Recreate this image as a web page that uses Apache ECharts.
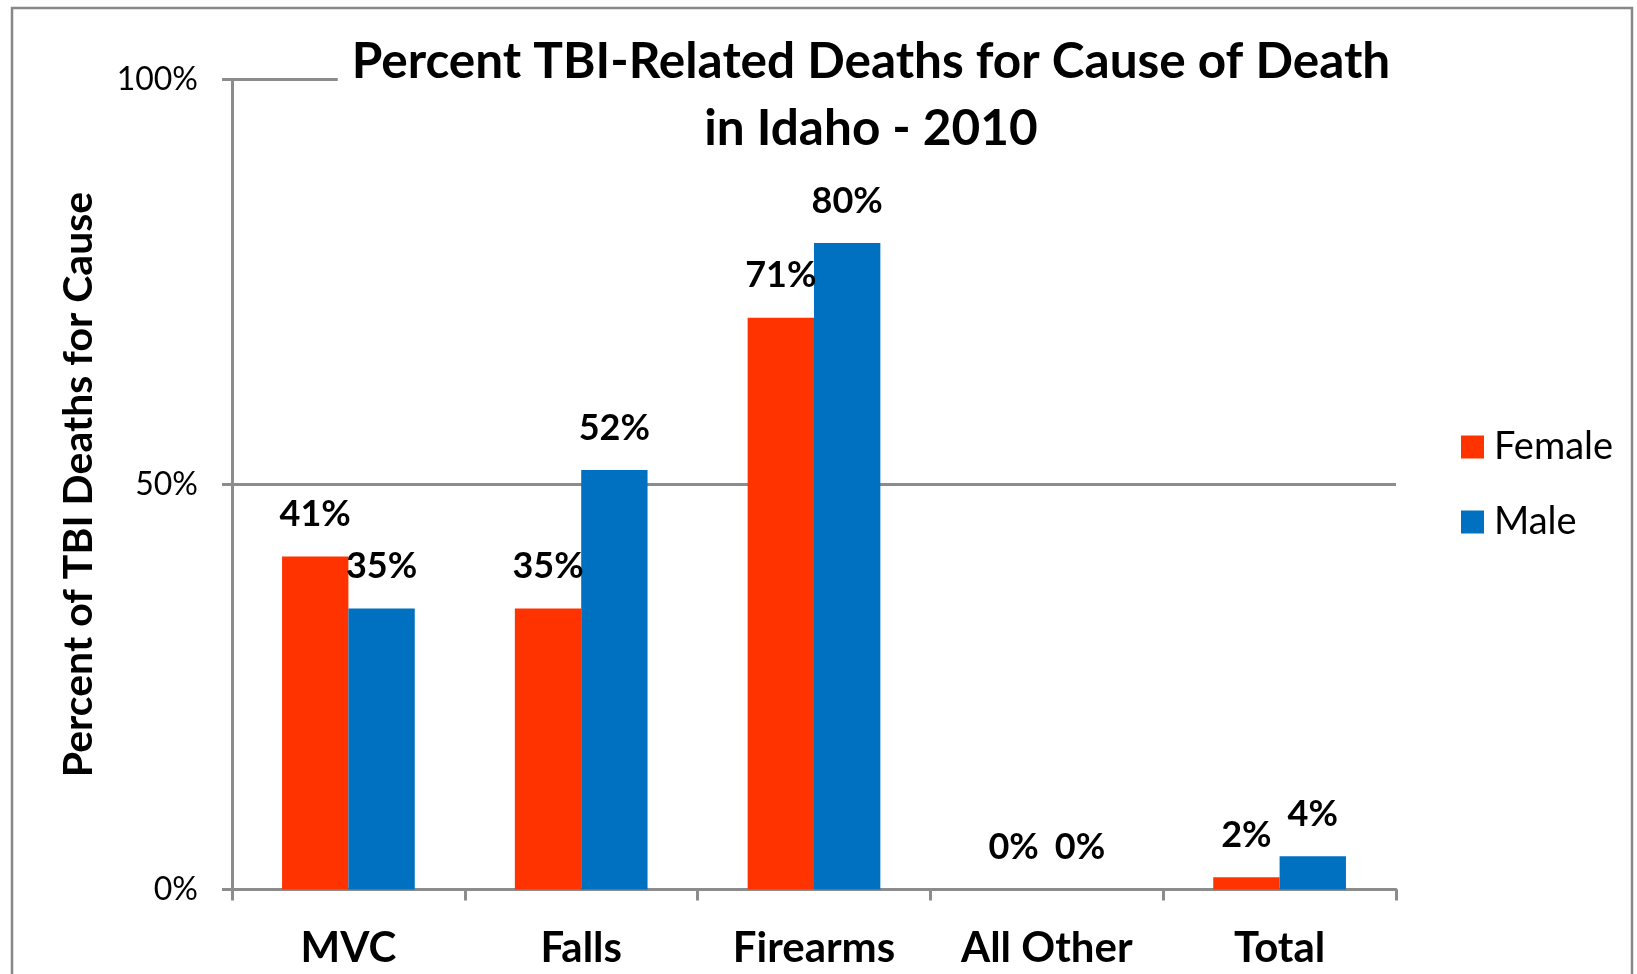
<!DOCTYPE html>
<html>
<head>
<meta charset="utf-8">
<script src="https://cdn.jsdelivr.net/npm/echarts@6/dist/echarts.min.js"></script>
<style>
html,body{margin:0;padding:0;background:#fff;}
#chartmain{width:1637px;height:974px;}
</style>
</head>
<body>
<div id="chartmain"></div>
<script>
var categories = ['MVC', 'Falls', 'Firearms', 'All Other', 'Total'];
var female = [41.1, 34.7, 70.6, 0, 1.5];
var male = [34.7, 51.8, 79.8, 0, 4.1];
var yTicks = [0, 50, 100];

var gridColor = '#8c8c8c';
var font = 'Lato, "Open Sans", sans-serif';

function pctLabel(p){
	return Math.round(p.value) + '%';
}

var myChart = echarts.init(document.getElementById('chartmain'));
var option = {
	animation: false,
	backgroundColor: '#fff',
	textStyle: {fontFamily: font},
	graphic: [{
		type: 'rect',
		shape: {x: 12, y: 8, width: 1620, height: 1000},
		style: {fill: 'none', stroke: '#888', lineWidth: 2.5},
		silent: true
	}],
	title: {
		text: 'Percent TBI-Related Deaths for Cause of Death\nin Idaho - 2010',
		left: 857,
		top: 23,
		textAlign: 'center',
		backgroundColor: '#fff',
		padding: [6, 14, 6, 14],
		textStyle: {
			fontFamily: font,
			fontSize: 49.5,
			fontWeight: 'bold',
			color: '#000',
			lineHeight: 67,
			align: 'center'
		}
	},
	legend: {
		orient: 'vertical',
		left: 1456,
		top: 423,
		itemWidth: 23,
		itemHeight: 23,
		itemGap: 37,
		icon: 'rect',
		data: ['Female', 'Male'],
		textStyle: {fontFamily: font, fontSize: 38, color: '#000', padding: [0, 0, 0, 5]}
	},
	grid: {
		left: 232,
		right: 241,
		top: 79.5,
		bottom: 84.5,
		containLabel: false
	},
	xAxis: {
		type: 'category',
		data: categories,
		axisLine: {lineStyle: {color: gridColor, width: 3}},
		axisTick: {show: true, length: 11, lineStyle: {color: gridColor, width: 3}},
		axisLabel: {
			margin: 38,
			fontFamily: font,
			fontSize: 42,
			fontWeight: 'bold',
			color: '#000'
		}
	},
	yAxis: {
		type: 'value',
		min: yTicks[0],
		max: yTicks[yTicks.length - 1],
		interval: yTicks[1] - yTicks[0],
		name: 'Percent of TBI Deaths for Cause',
		nameLocation: 'middle',
		nameRotate: 90,
		nameGap: 133,
		nameTextStyle: {fontFamily: font, fontSize: 41, fontWeight: 'bold', color: '#000'},
		axisLine: {show: true, lineStyle: {color: gridColor, width: 3}},
		axisTick: {show: true, length: 10, lineStyle: {color: gridColor, width: 3}},
		splitLine: {show: true, lineStyle: {color: gridColor, width: 3}},
		axisLabel: {
			margin: 34,
			fontFamily: font,
			fontSize: 32,
			color: '#000',
			formatter: '{value}%'
		}
	},
	series: [
		{
			name: 'Female',
			type: 'bar',
			data: female,
			barGap: '0%',
			barCategoryGap: '43%',
			itemStyle: {color: '#ff3300'},
			label: {
				show: true,
				position: 'top',
				distance: 24,
				formatter: pctLabel,
				fontFamily: font,
				fontSize: 36,
				fontWeight: 'bold',
				color: '#000'
			}
		},
		{
			name: 'Male',
			type: 'bar',
			data: male,
			barGap: '0%',
			barCategoryGap: '43%',
			itemStyle: {color: '#0070c0'},
			label: {
				show: true,
				position: 'top',
				distance: 24,
				formatter: pctLabel,
				fontFamily: font,
				fontSize: 36,
				fontWeight: 'bold',
				color: '#000'
			}
		}
	]
};
myChart.setOption(option);
</script>
</body>
</html>
